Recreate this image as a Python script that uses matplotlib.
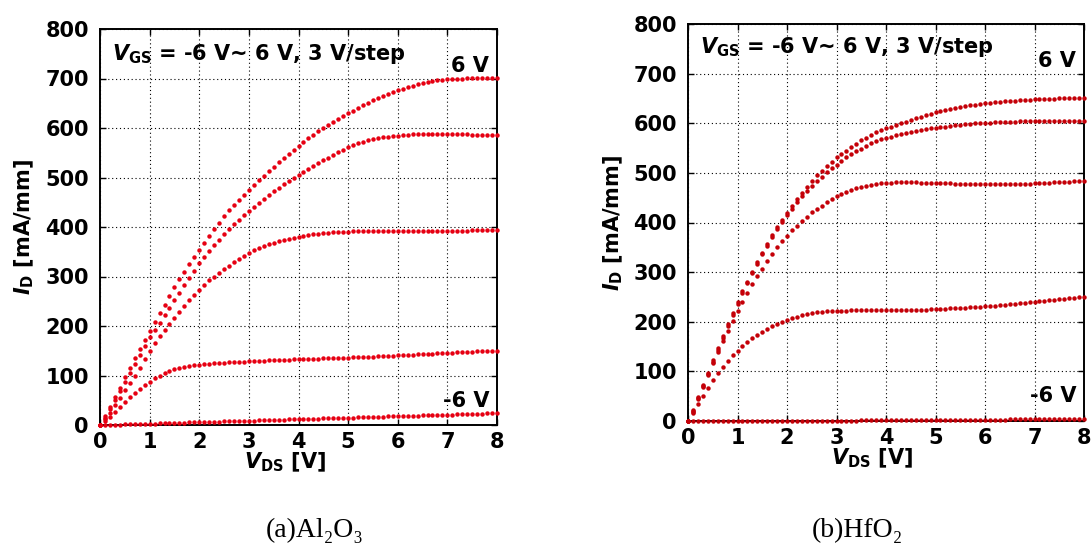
import matplotlib
matplotlib.use('Agg')
import matplotlib.pyplot as plt

# V_DS sweep [V]
vds = [0.0, 0.1, 0.2, 0.3, 0.4, 0.5, 0.6, 0.7, 0.8, 0.9,
       1.0, 1.1, 1.2, 1.3, 1.4, 1.5, 1.6, 1.7, 1.8, 1.9,
       2.0, 2.1, 2.2, 2.3, 2.4, 2.5, 2.6, 2.7, 2.8, 2.9,
       3.0, 3.1, 3.2, 3.3, 3.4, 3.5, 3.6, 3.7, 3.8, 3.9,
       4.0, 4.1, 4.2, 4.3, 4.4, 4.5, 4.6, 4.7, 4.8, 4.9,
       5.0, 5.1, 5.2, 5.3, 5.4, 5.5, 5.6, 5.7, 5.8, 5.9,
       6.0, 6.1, 6.2, 6.3, 6.4, 6.5, 6.6, 6.7, 6.8, 6.9,
       7.0, 7.1, 7.2, 7.3, 7.4, 7.5, 7.6, 7.7, 7.8, 7.9,
       8.0]

# (a) Al2O3, I_D [mA/mm] for V_GS = 6, 3, 0, -3, -6 V
al_6 = [0, 18, 36, 56, 75, 96, 116, 135, 154, 172,
        190, 208, 226, 243, 261, 278, 294, 310, 325, 340,
        354, 368, 382, 395, 409, 422, 434, 445, 455, 465,
        475, 485, 495, 504, 513, 522, 531, 540, 548, 556,
        564, 572, 579, 586, 593, 600, 606, 612, 618, 624,
        630, 635, 641, 646, 651, 656, 660, 664, 668, 672,
        676, 679, 682, 685, 688, 690, 692, 694, 696, 697,
        698, 699, 700, 700, 701, 701, 701, 702, 702, 702,
        702]
al_3 = [0, 15, 32, 50, 68, 87, 105, 123, 141, 159,
        177, 192, 207, 222, 237, 252, 267, 282, 297, 312,
        327, 340, 352, 363, 374, 385, 396, 406, 415, 424,
        433, 441, 449, 457, 465, 472, 479, 486, 492, 498,
        505, 511, 517, 523, 529, 535, 540, 546, 551, 556,
        561, 565, 569, 572, 575, 577, 579, 581, 582, 583,
        584, 585, 586, 587, 587, 588, 588, 588, 588, 588,
        588, 588, 587, 587, 587, 586, 586, 586, 585, 585,
        585]
al_0 = [0, 12, 25, 40, 55, 70, 85, 100, 116, 133,
        150, 165, 179, 192, 205, 217, 229, 241, 252, 263,
        273, 283, 292, 300, 308, 315, 322, 329, 336, 342,
        348, 353, 357, 361, 365, 368, 371, 374, 376, 378,
        380, 382, 384, 385, 386, 387, 388, 389, 389, 390,
        390, 391, 391, 391, 391, 392, 392, 392, 392, 392,
        392, 392, 392, 392, 392, 392, 392, 392, 392, 392,
        392, 392, 392, 392, 392, 393, 393, 393, 393, 393,
        393]
al_m3 = [0, 8, 17, 27, 37, 47, 56, 64, 72, 80,
         87, 94, 100, 105, 109, 113, 116, 118, 120, 121,
         122, 123, 124, 125, 125, 126, 127, 127, 128, 128,
         129, 129, 130, 130, 131, 131, 132, 132, 132, 133,
         133, 133, 134, 134, 134, 135, 135, 135, 136, 136,
         136, 137, 137, 137, 138, 138, 139, 139, 140, 140,
         141, 141, 142, 142, 143, 143, 144, 144, 145, 145,
         146, 146, 147, 147, 148, 148, 149, 149, 149, 150,
         150]
al_m6 = [0, 0, 1, 1, 1, 2, 2, 2, 3, 3,
         3, 3, 4, 4, 4, 5, 5, 5, 6, 6,
         6, 6, 7, 7, 7, 8, 8, 8, 9, 9,
         9, 9, 10, 10, 10, 11, 11, 11, 12, 12,
         12, 12, 13, 13, 13, 14, 14, 14, 15, 15,
         15, 15, 16, 16, 16, 17, 17, 17, 18, 18,
         18, 18, 19, 19, 19, 20, 20, 20, 21, 21,
         21, 21, 22, 22, 22, 23, 23, 23, 24, 24,
         24]

# (b) HfO2
hf_6 = [0, 22, 49, 73, 97, 123, 147, 171, 195, 218,
        240, 261, 281, 301, 320, 339, 357, 374, 390, 405,
        419, 433, 447, 460, 472, 484, 495, 503, 514, 522,
        531, 539, 545, 552, 559, 566, 571, 576, 582, 586,
        590, 593, 597, 600, 603, 607, 610, 613, 616, 619,
        622, 624, 627, 629, 631, 633, 635, 636, 637, 639,
        640, 641, 642, 643, 644, 645, 645, 646, 647, 647,
        648, 648, 649, 649, 649, 650, 650, 650, 651, 651,
        651]
hf_3 = [0, 18, 46, 71, 95, 119, 144, 168, 192, 214,
        236, 258, 278, 298, 317, 336, 353, 370, 387, 402,
        415, 428, 441, 453, 464, 474, 484, 492, 501, 509,
        516, 524, 531, 538, 544, 549, 555, 560, 564, 568,
        571, 573, 576, 578, 580, 582, 584, 586, 588, 590,
        591, 592, 593, 595, 596, 597, 598, 599, 600, 600,
        601, 601, 602, 602, 603, 603, 603, 604, 604, 604,
        604, 604, 605, 605, 605, 605, 605, 605, 605, 605,
        605]
hf_0 = [0, 20, 45, 69, 93, 117, 140, 161, 182, 202,
        222, 240, 258, 276, 292, 307, 322, 336, 350, 362,
        373, 384, 393, 403, 412, 421, 428, 434, 441, 447,
        453, 458, 462, 466, 469, 472, 474, 476, 478, 479,
        480, 480, 481, 481, 481, 481, 481, 480, 480, 480,
        480, 479, 479, 479, 478, 478, 478, 477, 477, 477,
        477, 477, 477, 477, 477, 477, 477, 477, 478, 478,
        479, 479, 480, 480, 481, 481, 482, 482, 483, 483,
        484]
hf_m3 = [0, 16, 35, 51, 67, 82, 96, 109, 121, 132,
         142, 151, 159, 167, 174, 180, 186, 191, 196, 200,
         203, 207, 210, 213, 215, 217, 219, 220, 221, 221,
         222, 222, 222, 223, 223, 223, 223, 223, 223, 223,
         223, 223, 223, 223, 224, 224, 224, 224, 224, 225,
         225, 226, 226, 227, 227, 228, 228, 229, 230, 230,
         231, 232, 232, 233, 234, 235, 236, 237, 238, 239,
         240, 241, 242, 243, 244, 245, 246, 247, 248, 249,
         250]
hf_m6 = [0, 0, 0, 0, 0, 0, 0, 0, 0, 0,
         0, 0, 0, 0, 0, 1, 1, 1, 1, 1,
         1, 1, 1, 1, 1, 1, 1, 1, 1, 1,
         1, 1, 1, 1, 1, 2, 2, 2, 2, 2,
         2, 2, 2, 2, 2, 3, 3, 3, 3, 3,
         3, 3, 3, 3, 3, 3, 3, 3, 3, 3,
         3, 3, 3, 3, 3, 4, 4, 4, 4, 4,
         4, 4, 4, 4, 4, 5, 5, 5, 5, 5,
         5]

x_ticks = [0, 1, 2, 3, 4, 5, 6, 7, 8]
y_ticks = [0, 100, 200, 300, 400, 500, 600, 700, 800]

plt.rcParams['font.family'] = ['DejaVu Sans']
plt.rcParams['font.weight'] = 'bold'
plt.rcParams['mathtext.fontset'] = 'custom'
plt.rcParams['mathtext.rm'] = 'DejaVu Sans:bold'
plt.rcParams['mathtext.bf'] = 'DejaVu Sans:bold'
plt.rcParams['mathtext.it'] = 'DejaVu Sans:italic:bold'

FS = 15


def draw_panel(ax, curves, color, vgs_y, lab_top_y, lab_bot_y):
    for ids in curves:
        ax.plot(vds, ids, 'o', color=color, markersize=3.2,
                markeredgewidth=0, clip_on=False, zorder=3)
    ax.set_xlim(0, 8)
    ax.set_ylim(0, 800)
    ax.set_xticks(x_ticks)
    ax.set_yticks(y_ticks)
    ax.tick_params(direction='in', length=4, width=1, top=True, right=True,
                   labelsize=FS, pad=5)
    ax.tick_params(axis='y', pad=8)
    for lbl in ax.get_xticklabels() + ax.get_yticklabels():
        lbl.set_fontweight('bold')
    for sp in ax.spines.values():
        sp.set_linewidth(1.4)
    ax.grid(True, color='black', linestyle=(0, (1, 2.5)), linewidth=0.8)
    ax.set_axisbelow(True)

    ax.set_xlabel(r'$V_{\mathrm{DS}}$ [V]', fontsize=FS, fontweight='bold')
    ax.set_ylabel(r'$I_{\mathrm{D}}$ [mA/mm]', fontsize=FS, fontweight='bold')
    ax.xaxis.set_label_coords(0.465, -0.065)
    ax.yaxis.set_label_coords(-0.16, 0.5)

    ax.text(0.24, vgs_y, r'$V_{\mathrm{GS}}$ = -6 V~ 6 V, 3 V/step',
            fontsize=FS, fontweight='bold', ha='left', va='baseline')
    ax.text(7.84, lab_top_y, '6 V', fontsize=FS, fontweight='bold',
            ha='right', va='baseline')
    ax.text(7.84, lab_bot_y, '-6 V', fontsize=FS, fontweight='bold',
            ha='right', va='baseline')


fig = plt.figure(figsize=(10.92, 5.59), dpi=100)
ax1 = fig.add_axes([100 / 1092, 1 - 425 / 559, 397 / 1092, 396 / 559])
ax2 = fig.add_axes([688 / 1092, 1 - 421 / 559, 396 / 1092, 397 / 559])

draw_panel(ax1, [al_6, al_3, al_0, al_m3, al_m6], '#e60012', 737, 713, 36)
draw_panel(ax2, [hf_6, hf_3, hf_0, hf_m3, hf_m6], '#c40008', 742, 714, 38)

cap_font = ['Liberation Serif', 'DejaVu Serif']
fig.text(315 / 1092, 1 - 530 / 559, '(a)Al\u2082O\u2083', family=cap_font,
         fontsize=20, fontweight='normal', ha='center', va='center')
fig.text(857 / 1092, 1 - 530 / 559, '(b)HfO\u2082', family=cap_font,
         fontsize=20, fontweight='normal', ha='center', va='center')

fig.savefig('out.png', dpi=100)
